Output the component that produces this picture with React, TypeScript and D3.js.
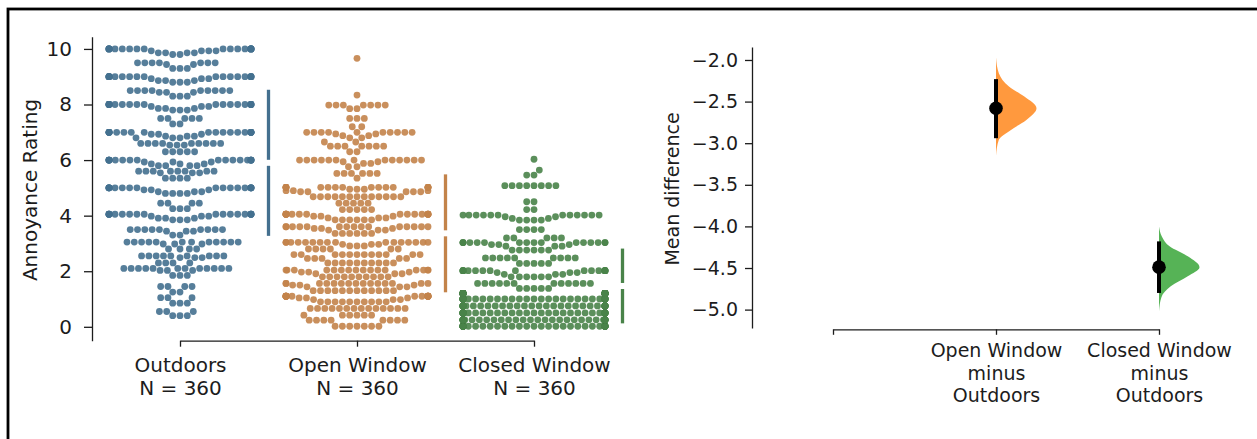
import React, { useEffect, useRef } from "react";
import * as d3 from "d3";

// groups and sample sizes
const groups = ["Outdoors", "Open Window", "Closed Window"];
const groupN = [360, 360, 360];
const swarmColors = ["#44708f", "#c3834a", "#498349"];
const violinColors = ["#ff993e", "#56b356"];

// [rating, number of responses]
const outdoorsCounts: [number, number][] = [
  [10, 20], [9.93, 4], [9.86, 4], [9.8, 2], [9.5, 7], [9.44, 2], [9.3, 3],
  [9, 19], [8.93, 3], [8.86, 3], [8.8, 3], [8.5, 9], [8.44, 3], [8.3, 3],
  [8, 19], [7.93, 3], [7.86, 3], [7.8, 3], [7.5, 5], [7.3, 2],
  [7, 20], [6.93, 3], [6.86, 3], [6.8, 3], [6.6, 9], [6.54, 3], [6.3, 5],
  [6, 19], [5.93, 3], [5.86, 3], [5.8, 4], [5.6, 8], [5.54, 3], [5.35, 4],
  [5, 19], [4.93, 3], [4.86, 3], [4.8, 4], [4.45, 4], [4.25, 3],
  [4.05, 18], [3.98, 3], [3.91, 3], [3.85, 3], [3.5, 9], [3.44, 3], [3.3, 2],
  [3.05, 12], [2.98, 3], [2.8, 4], [2.55, 9], [2.49, 3], [2.3, 4],
  [2.1, 12], [2.03, 3], [1.85, 3], [1.45, 4], [1.25, 2], [1.05, 3],
  [0.85, 3], [0.55, 3], [0.4, 3],
];
const openWindowCounts: [number, number][] = [
  [9.66, 1], [8.34, 1], [7.98, 7], [7.85, 2], [7.5, 3], [7.2, 2],
  [7, 10], [6.94, 2], [6.88, 2], [6.8, 2], [6.65, 2], [6.5, 7], [6.3, 2],
  [6, 13], [5.94, 2], [5.88, 2], [5.76, 2], [5.52, 6], [5.35, 1],
  [5.02, 16], [4.95, 3], [4.9, 3], [4.86, 5], [4.68, 13], [4.45, 5], [4.22, 5],
  [4.05, 16], [3.98, 3], [3.92, 3], [3.85, 6],
  [3.6, 15], [3.54, 3], [3.48, 3], [3.36, 6],
  [3.04, 16], [2.97, 3], [2.91, 3], [2.8, 6], [2.6, 12], [2.46, 5], [2.3, 10],
  [2.04, 16], [1.97, 3], [1.91, 3], [1.8, 10],
  [1.56, 15], [1.5, 3], [1.44, 3], [1.3, 12],
  [1.1, 15], [1.04, 3], [0.98, 3], [0.9, 10],
  [0.66, 14], [0.42, 6], [0.24, 8], [0.02, 7],
];
const closedWindowCounts: [number, number][] = [
  [6.03, 1], [5.64, 1], [5.46, 2], [5.08, 8], [4.5, 2], [4.22, 2],
  [4.02, 12], [3.96, 2], [3.9, 2], [3.84, 4], [3.5, 4], [3.2, 5],
  [3.03, 16], [2.96, 3], [2.9, 3], [2.76, 6], [2.48, 9], [2.28, 5],
  [2.02, 17], [1.95, 3], [1.89, 3], [1.8, 6], [1.56, 12], [1.38, 5],
  [1.2, 36], [1.0, 38], [0.75, 38], [0.5, 38], [0.25, 38], [0.02, 38],
];
const groupCounts = [outdoorsCounts, openWindowCounts, closedWindowCounts];

// mean differences vs Outdoors, with 95% CI and bootstrap density (value, relative height)
const effectGroups = ["Open Window", "Closed Window"];
const effectLabels = [
  ["Open Window", "minus", "Outdoors"],
  ["Closed Window", "minus", "Outdoors"],
];
const effectMeans = [-2.58, -4.49];
const effectCiLow = [-2.94, -4.8];
const effectCiHigh = [-2.23, -4.18];
const openDensity: [number, number][] = [
  [-1.97, 0], [-2.16, 0.07], [-2.32, 0.32], [-2.44, 0.7], [-2.58, 1],
  [-2.72, 0.75], [-2.84, 0.37], [-2.96, 0.07], [-3.15, 0],
];
const closedDensity: [number, number][] = [
  [-4.0, 0], [-4.12, 0.07], [-4.24, 0.26], [-4.36, 0.71], [-4.49, 1],
  [-4.6, 0.71], [-4.72, 0.29], [-4.85, 0.06], [-5.02, 0],
];
const effectDensities = [openDensity, closedDensity];

const ratingTicks = [0, 2, 4, 6, 8, 10];
const diffTicks = [-2, -2.5, -3, -3.5, -4, -4.5, -5];

const FONT = "DejaVu Sans";
const INK = "#1c1c1c";

// seaborn-like swarm: lowest values first, each point goes to the free spot closest to the centre
function swarm(values: number[], y: (v: number) => number, d: number, limit: number) {
  const pts = values.map((v) => y(v)).sort((a, b) => b - a);
  const placed: { x: number; y: number }[] = [];
  for (const py of pts) {
    const near = placed.filter((q) => Math.abs(q.y - py) < d);
    const cands = [0];
    near.forEach((q) => {
      const dx = Math.sqrt(d * d - (q.y - py) ** 2);
      cands.push(q.x - dx, q.x + dx);
    });
    cands.sort((a, b) => Math.abs(a) - Math.abs(b));
    let x = cands[cands.length - 1];
    for (const c of cands) {
      if (near.every((q) => (q.x - c) ** 2 + (q.y - py) ** 2 >= d * d - 1e-6)) {
        x = c;
        break;
      }
    }
    placed.push({ x, y: py });
  }
  return placed.map((p) => ({ x: Math.max(-limit, Math.min(limit, p.x)), y: p.y }));
}

const App = () => {
  const svgRef = useRef<SVGSVGElement>(null);

  useEffect(() => {
    const svg = d3.select(svgRef.current);
    svg.selectAll("*").remove();

    // frame
    svg.append("rect")
      .attr("x", 8).attr("y", 9).attr("width", 1400).attr("height", 600)
      .attr("fill", "none").attr("stroke", "#000").attr("stroke-width", 2.8);

    // ---------- left: raw data swarm ----------
    const yL = d3.scaleLinear().domain([-0.5, 10.44]).range([340.7, 36.7]);
    const xL = d3.scalePoint<string>().domain(groups).range([180, 534]);

    const styleAxis = (g: any) => {
      g.attr("font-family", FONT).attr("color", INK);
      g.selectAll("path, line").attr("stroke-width", 1.3);
    };

    const yAxisL = svg.append("g")
      .attr("transform", "translate(92,0)")
      .call(d3.axisLeft(yL).tickValues(ratingTicks).tickSize(8).tickPadding(12).tickSizeOuter(0))
      .attr("font-size", 20);
    styleAxis(yAxisL);

    const xAxisL = svg.append("g")
      .attr("transform", "translate(0,340.7)")
      .call(d3.axisBottom(xL).tickSize(6).tickSizeOuter(0))
      .attr("font-size", 20);
    styleAxis(xAxisL);
    xAxisL.selectAll<SVGTextElement, string>(".tick text").each(function (d) {
      const t = d3.select(this).text(null).attr("y", null).attr("dy", null);
      const i = groups.indexOf(d);
      [d, `N = ${groupN[i]}`].forEach((line, k) =>
        t.append("tspan").attr("x", 0).attr("y", 31.3 + k * 23).text(line)
      );
    });

    svg.append("text")
      .attr("transform", "translate(37,190) rotate(-90)")
      .attr("text-anchor", "middle")
      .attr("font-family", FONT).attr("font-size", 20).attr("fill", INK)
      .text("Annoyance Rating");

    groups.forEach((g, i) => {
      const values = groupCounts[i].flatMap(([v, c]) => Array(c).fill(v) as number[]);
      const cx = xL(g)!;
      svg.append("g")
        .selectAll("circle")
        .data(swarm(values, yL, 7.3, 71))
        .join("circle")
        .attr("cx", (p) => cx + p.x)
        .attr("cy", (p) => p.y)
        .attr("r", 3.4)
        .attr("fill", swarmColors[i])
        .attr("fill-opacity", 0.9);

      // mean +/- sd gapped line
      const m = d3.mean(values)!;
      const s = d3.deviation(values)!;
      const bx = cx + 88.5;
      const gap = 3;
      svg.append("line")
        .attr("x1", bx).attr("x2", bx)
        .attr("y1", yL(m + s)).attr("y2", yL(m) - gap)
        .attr("stroke", swarmColors[i]).attr("stroke-width", 3.3);
      svg.append("line")
        .attr("x1", bx).attr("x2", bx)
        .attr("y1", yL(m) + gap).attr("y2", yL(m - s))
        .attr("stroke", swarmColors[i]).attr("stroke-width", 3.3);
    });

    // ---------- right: mean differences ----------
    const yR = d3.scaleLinear().domain([-5.221, -1.844]).range([328, 47]);
    const xR = d3.scalePoint<string>().domain(groups).range([833, 1159]);

    const yAxisR = svg.append("g")
      .attr("transform", "translate(752,0)")
      .call(d3.axisLeft(yR).tickValues(diffTicks).tickFormat(d3.format(".1f")).tickSize(7).tickPadding(7).tickSizeOuter(0))
      .attr("font-size", 19);
    styleAxis(yAxisR);

    const xAxisR = svg.append("g")
      .attr("transform", "translate(0,329.3)")
      .call(d3.axisBottom(xR).tickSize(5.5).tickSizeOuter(0))
      .attr("font-size", 19);
    styleAxis(xAxisR);
    xAxisR.selectAll<SVGTextElement, string>(".tick text").each(function (d) {
      const t = d3.select(this).text(null).attr("y", null).attr("dy", null);
      const i = effectGroups.indexOf(d);
      if (i < 0) return;
      effectLabels[i].forEach((line, k) =>
        t.append("tspan").attr("x", 0).attr("y", 28.2 + k * 22.3).text(line)
      );
    });

    svg.append("text")
      .attr("transform", "translate(679,189) rotate(-90)")
      .attr("text-anchor", "middle")
      .attr("font-family", FONT).attr("font-size", 19).attr("fill", INK)
      .text("Mean difference");

    const w = d3.scaleLinear().domain([0, 1]).range([0, 40.5]);
    effectGroups.forEach((g, i) => {
      const cx = xR(g)!;
      const area = d3.area<[number, number]>()
        .y((d) => yR(d[0]))
        .x0(cx)
        .x1((d) => cx + w(d[1]))
        .curve(d3.curveMonotoneY);
      svg.append("path")
        .datum(effectDensities[i])
        .attr("d", area)
        .attr("fill", violinColors[i]);

      svg.append("line")
        .attr("x1", cx).attr("x2", cx)
        .attr("y1", yR(effectCiHigh[i])).attr("y2", yR(effectCiLow[i]))
        .attr("stroke", "#000").attr("stroke-width", 4);
      svg.append("circle")
        .attr("cx", cx).attr("cy", yR(effectMeans[i]))
        .attr("r", 6.8).attr("fill", "#000");
    });
  }, []);

  return (
    <svg
      ref={svgRef}
      width={1257}
      height={439}
      style={{ position: "fixed", left: 0, top: 0, display: "block", background: "#fff" }}
    />
  );
};

export default App;
